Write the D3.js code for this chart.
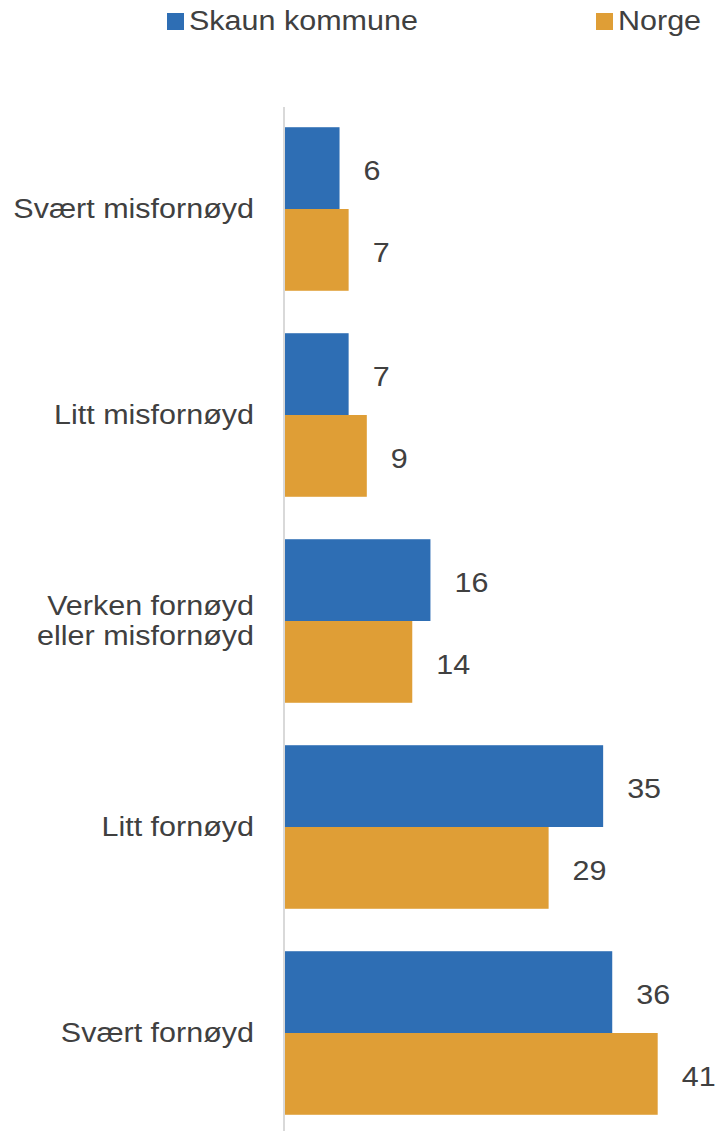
<!DOCTYPE html>
<html>
<head>
<meta charset="utf-8">
<script src="https://cdn.jsdelivr.net/npm/d3@7"></script>
<style>
    body { margin: 0; background: #fff; }
    text { font-family: "Liberation Sans", Arial, sans-serif; fill: #404040; }
</style>
</head>
<body>
<div id="chart"></div>
<script>
const WIDTH = 718;
const HEIGHT = 1131;

// data
const CATEGORIES = [
    'Svært misfornøyd',
    'Litt misfornøyd',
    'Verken fornøyd\neller misfornøyd',
    'Litt fornøyd',
    'Svært fornøyd'
]
const SERIES = ['Skaun kommune', 'Norge']
const SKAUN = [6, 7, 16, 35, 36]
const NORGE = [7, 9, 14, 29, 41]

const COLORS = {
    'Skaun kommune': '#2e6eb4',
    'Norge': '#df9e36'
}

const FONT_SIZE = 27;
const STRETCH = 1.13;    // the picture is a bit wider than tall, so text is stretched

let rows = CATEGORIES.map((c, i) => {
    return { category: c, 'Skaun kommune': SKAUN[i], 'Norge': NORGE[i] }
})

let svg = d3.select("#chart").append("svg")
    .attr("width", WIDTH)
    .attr("height", HEIGHT)

let axisX = 285;

let x = d3.scaleLinear()
    .domain([0, 45])
    .range([axisX, axisX + 45 * 9.09]);

let y = d3.scaleBand()
    .domain(CATEGORIES)
    .range([106, 1136])
    .paddingInner(0.206)
    .paddingOuter(0.103);

let ySub = d3.scaleBand()
    .domain(SERIES)
    .range([0, y.bandwidth()]);

// helper for stretched text
function addText(g, str, px, py, anchor) {
    return g.append("text")
        .attr("transform", `translate(${px},${py}) scale(${STRETCH},1)`)
        .attr("text-anchor", anchor)
        .style("font-size", FONT_SIZE + "px")
        .text(str)
}

// vertical axis line
svg.append("line")
    .attr("x1", axisX - 1).attr("x2", axisX - 1)
    .attr("y1", 107).attr("y2", HEIGHT)
    .attr("stroke", "#d9d9d9")
    .attr("stroke-width", 2)

// bars
let groups = svg.selectAll(".cat-group")
    .data(rows)
    .enter().append("g")
    .attr("class", "cat-group")
    .attr("transform", d => `translate(0, ${y(d.category)})`)

groups.selectAll("rect")
    .data(d => SERIES.map(s => ({ key: s, value: d[s] })))
    .enter().append("rect")
    .attr("x", x(0))
    .attr("y", d => ySub(d.key))
    .attr("width", d => x(d.value) - x(0))
    .attr("height", ySub.bandwidth())
    .attr("fill", d => COLORS[d.key])

// value labels
groups.each(function (d) {
    let g = d3.select(this)
    SERIES.forEach((s) => {
        addText(g, d[s], x(d[s]) + 24, ySub(s) + ySub.bandwidth() / 2 + 12, "start")
    })
})

// category labels
groups.each(function (d) {
    let g = d3.select(this)
    let lines = d.category.split("\n")
    let mid = y.bandwidth() / 2
    lines.forEach((line, i) => {
        addText(g, line, 254, mid + 9 + (i - (lines.length - 1) / 2) * 30, "end")
    })
})

// legend
let legendPos = [
    { key: 'Skaun kommune', x: 167 },
    { key: 'Norge', x: 596 }
]
legendPos.forEach((l) => {
    svg.append("rect")
        .attr("x", l.x)
        .attr("y", 13)
        .attr("width", 17)
        .attr("height", 17)
        .attr("fill", COLORS[l.key])
    addText(svg, l.key, l.x + 22, 30, "start")
})
</script>
</body>
</html>
